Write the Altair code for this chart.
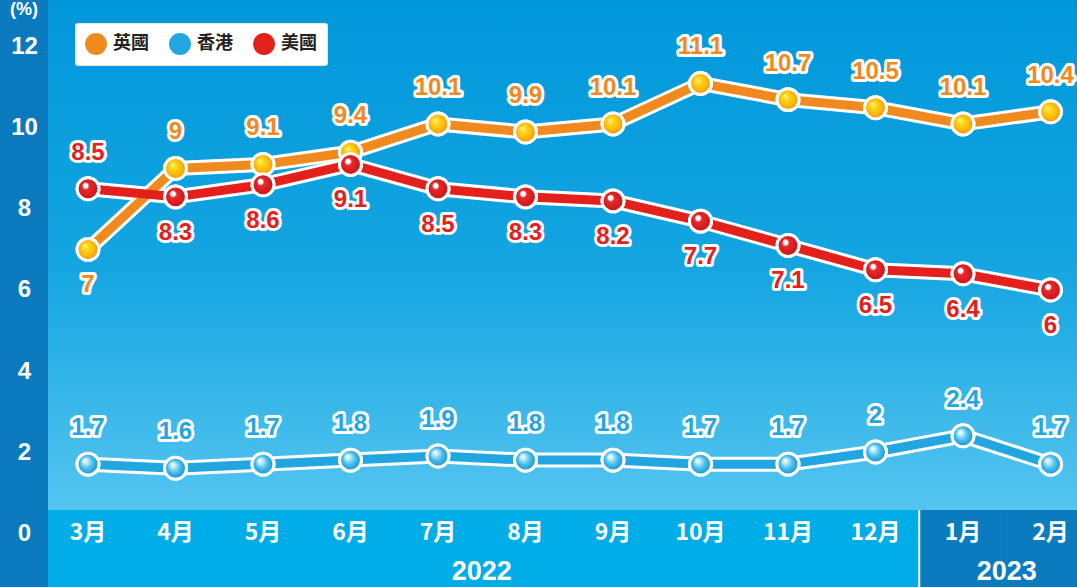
import altair as alt
import pandas as pd

# ---------------- data ----------------
months = ["3月", "4月", "5月", "6月", "7月", "8月", "9月", "10月", "11月", "12月", "1月", "2月"]
series_names = ["英國", "香港", "美國"]
uk = [7, 9, 9.1, 9.4, 10.1, 9.9, 10.1, 11.1, 10.7, 10.5, 10.1, 10.4]
hk = [1.7, 1.6, 1.7, 1.8, 1.9, 1.8, 1.8, 1.7, 1.7, 2, 2.4, 1.7]
us = [8.5, 8.3, 8.6, 9.1, 8.5, 8.3, 8.2, 7.7, 7.1, 6.5, 6.4, 6]
uk_side = ["below"] + ["above"] * 11
hk_side = ["above"] * 12
us_side = ["above"] + ["below"] * 11
y_ticks = [0, 2, 4, 6, 8, 10, 12]
years = ["2022", "2023"]
year_anchor = ["8月", "2月"]
months_2023 = ["1月", "2月"]

rows = []
for name, vals, sides in zip(series_names, [uk, hk, us], [uk_side, hk_side, us_side]):
    for i, (m, v, s) in enumerate(zip(months, vals, sides)):
        rows.append({"idx": i, "month": m, "series": name, "value": v,
                     "side": s, "label": f"{v:g}"})
df = pd.DataFrame(rows)
one = pd.DataFrame({"k": [0]})

W, H = 1077, 587
BAND_TOP = 510
FONT = "Liberation Sans, Noto Sans CJK TC, sans-serif"
CJK = "Noto Sans CJK TC, Liberation Sans, sans-serif"
line_colors = ["#f08a1e", "#22a6e1", "#e3201c"]

xs = alt.Scale(type="band", domain=months, range=[44.25, 1094.25],
               paddingInner=0, paddingOuter=0)
ys = alt.Scale(domain=[-1.333, 13.16], nice=False, zero=False)

X = alt.X("month:N", scale=xs, axis=None, bandPosition=0.5)
Y = alt.Y("value:Q", scale=ys,
          axis=alt.Axis(values=y_ticks, orient="left", offset=-24, ticks=False,
                        tickSize=0, domain=False, grid=False, labelPadding=0,
                        labelAlign="center", labelBaseline="middle",
                        labelFont=FONT, labelFontSize=24, labelFontWeight="bold",
                        labelColor="white", title=None, zindex=2))

col = alt.Color(
    "series:N",
    scale=alt.Scale(domain=series_names, range=line_colors),
    legend=alt.Legend(
        title=None, orient="none", legendX=75, legendY=23, direction="horizontal",
        fillColor="white", strokeColor="#e6e6e6", padding=10, cornerRadius=2,
        symbolType="circle", symbolSize=480, symbolStrokeWidth=0, symbolOpacity=1,
        labelFont=CJK, labelFontSize=18, labelFontWeight="bold",
        labelColor="#222222", labelOffset=6, columnPadding=20, zindex=2,
    ),
)

# ---------------- background ----------------
bg = alt.Chart(one).mark_rect(
    fill=alt.LinearGradient(
        gradient="linear", x1=0, x2=0, y1=0, y2=1,
        stops=[alt.GradientStop(offset=0, color="#0097da"),
               alt.GradientStop(offset=0.45, color="#14a5e1"),
               alt.GradientStop(offset=0.87, color="#55c5f0"),
               alt.GradientStop(offset=1, color="#55c5f0")])
).encode(x=alt.value(0), x2=alt.value(W), y=alt.value(0), y2=alt.value(H))

band = alt.Chart(one).mark_rect(color="#00ade7").encode(
    x=alt.value(0), x2=alt.value(W), y=alt.value(BAND_TOP), y2=alt.value(H))

dark23 = alt.Chart(pd.DataFrame({"month": months_2023})).mark_rect(color="#0b7bbf").encode(
    x=alt.X("month:N", scale=xs, axis=None), y=alt.value(BAND_TOP), y2=alt.value(H))

sep = alt.Chart(pd.DataFrame({"month": ["1月"]})).mark_rule(color="white", strokeWidth=2).encode(
    x=alt.X("month:N", scale=xs, axis=None, bandPosition=0),
    y=alt.value(BAND_TOP), y2=alt.value(H))

strip = alt.Chart(one).mark_rect(color="#0b79bd").encode(
    x=alt.value(0), x2=alt.value(48), y=alt.value(0), y2=alt.value(H))

# ---------------- lines ----------------
base = alt.Chart(df)
white_lines = base.mark_line(color="white", strokeWidth=15, strokeCap="round",
                             strokeJoin="round").encode(
    x=X, y=Y, detail="series:N", order=alt.Order("idx:Q"))
lines = base.mark_line(strokeWidth=9, strokeCap="round", strokeJoin="round").encode(
    x=X, y=Y, color=col, order=alt.Order("idx:Q"))

dots = base.mark_circle(size=480, opacity=1, stroke="white", strokeWidth=3).encode(
    x=X, y=Y, color=col)


def ball(name, stops):
    grad = alt.RadialGradient(
        gradient="radial", x1=0.35, y1=0.32, r1=0, x2=0.5, y2=0.5, r2=0.5,
        stops=[alt.GradientStop(offset=o, color=c) for o, c in stops])
    return base.transform_filter(alt.datum.series == name).mark_circle(
        size=480, opacity=1, fill=grad, stroke="white", strokeWidth=3).encode(x=X, y=Y)


ball_uk = ball("英國", [(0, "#fff6b0"), (0.25, "#ffdc1e"), (0.75, "#fbb10b"), (1, "#f08c00")])
ball_hk = ball("香港", [(0, "#ffffff"), (0.18, "#d4f1fd"), (0.55, "#4cc0ee"), (1, "#128fd0")])
ball_us = ball("美國", [(0, "#ffffff"), (0.22, "#ffffff"), (0.32, "#ea2a2c"), (1, "#c8121a")])

# ---------------- value labels ----------------
label_layers = []
for side, dy in [("above", -36), ("below", 36)]:
    sub = base.transform_filter(alt.datum.side == side)
    label_layers.append(sub.mark_text(
        dy=dy, font=FONT, fontSize=24, fontWeight="bold", baseline="middle",
        fill="white", stroke="white", strokeWidth=6, strokeJoin="round"
    ).encode(x=X, y=Y, text="label:N"))
    label_layers.append(sub.mark_text(
        dy=dy, font=FONT, fontSize=24, fontWeight="bold", baseline="middle"
    ).encode(x=X, y=Y, text="label:N", color=col))

# ---------------- x labels ----------------
month_text = alt.Chart(pd.DataFrame({"month": months})).mark_text(
    font=CJK, fontSize=23, fontWeight="bold", color="white", baseline="middle"
).encode(x=X, y=alt.value(533), text="month:N")

year_text = alt.Chart(pd.DataFrame({"month": year_anchor, "year": years})).mark_text(
    font=FONT, fontSize=27, fontWeight="bold", color="white", baseline="middle"
).encode(x=alt.X("month:N", scale=xs, axis=None, bandPosition=0),
         y=alt.value(572), text="year:N")

unit_text = alt.Chart(pd.DataFrame({"t": ["(%)"]})).mark_text(
    font=FONT, fontSize=18, fontWeight="bold", color="white", baseline="alphabetic"
).encode(x=alt.value(24), y=alt.value(15), text="t:N")

chart = alt.layer(
    bg, band, dark23, sep, strip,
    white_lines, lines, dots, ball_uk, ball_hk, ball_us,
    *label_layers, month_text, year_text, unit_text,
).properties(
    width=W, height=H, padding=0, autosize="none"
).configure_view(stroke=None, strokeWidth=0)

chart.save("out.html", embed_options={"renderer": "svg", "actions": False})
